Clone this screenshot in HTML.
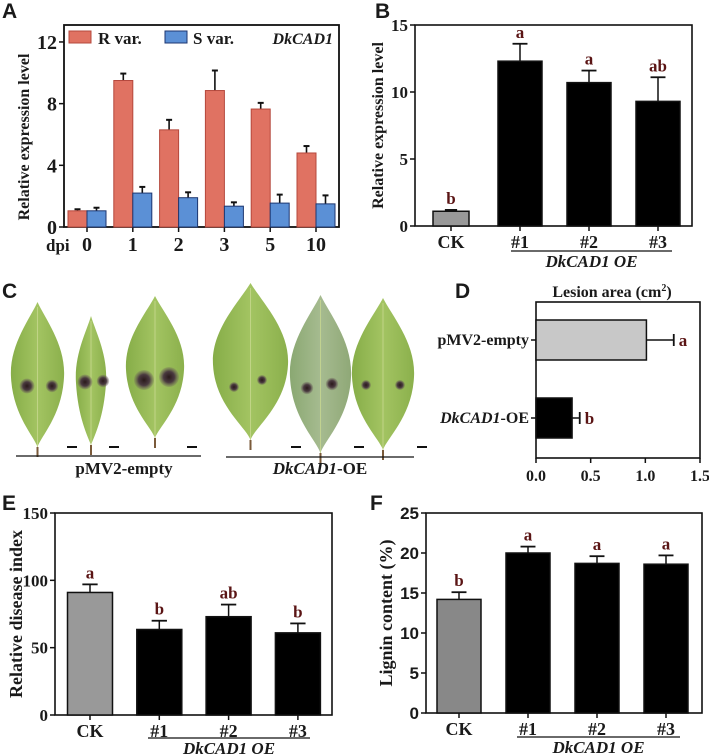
<!DOCTYPE html>
<html><head><meta charset="utf-8">
<style>
html,body{margin:0;padding:0;background:#fff;}
svg{display:block;}
text{font-family:"Liberation Serif",serif;font-weight:bold;fill:#1a1a1a;}
.sans{font-family:"Liberation Sans",sans-serif;}
</style></head>
<body>
<svg id="fig" width="709" height="754" viewBox="0 0 709 754" xmlns="http://www.w3.org/2000/svg">
<defs>
<linearGradient id="leafG" x1="0" y1="0" x2="1" y2="0">
<stop offset="0" stop-color="#86ad48"/><stop offset="0.5" stop-color="#a3c462"/><stop offset="1" stop-color="#8bb04c"/>
</linearGradient>
<linearGradient id="leafG2" x1="0" y1="0" x2="1" y2="0">
<stop offset="0" stop-color="#8aa872"/><stop offset="0.5" stop-color="#a6bb90"/><stop offset="1" stop-color="#8fa877"/>
</linearGradient>
<radialGradient id="spotG"><stop offset="0" stop-color="#2a1a1a"/><stop offset="0.55" stop-color="#4a3a40"/><stop offset="1" stop-color="#6a5a5a" stop-opacity="0.2"/></radialGradient>
</defs>
</svg>
<script>
// ---------- Panel A data ----------
const aCats = ["0","1","2","3","5","10"];
const aR = [1.05, 9.5, 6.3, 8.85, 7.65, 4.8];
const aRErr = [0.1, 0.45, 0.65, 1.3, 0.4, 0.45];
const aS = [1.05, 2.2, 1.9, 1.35, 1.55, 1.5];
const aSErr = [0.2, 0.4, 0.35, 0.25, 0.55, 0.55];
const aTicks = [0,4,8,12];
// ---------- Panel B data ----------
const bCats = ["CK","#1","#2","#3"];
const bVals = [1.1, 12.3, 10.7, 9.3];
const bErr = [0.1, 1.3, 0.9, 1.8];
const bLetters = ["b","a","a","ab"];
const bTicks = [0,5,10,15];
// ---------- Panel D data ----------
const dCats = ["pMV2-empty","DkCAD1-OE"];
const dVals = [1.01, 0.33];
const dErr = [0.25, 0.07];
const dLetters = ["a","b"];
const dTicks = [0, 0.5, 1.0, 1.5];
const dTickLabels = ["0.0","0.5","1.0","1.5"];
// ---------- Panel E data ----------
const eCats = ["CK","#1","#2","#3"];
const eVals = [91, 63.5, 73, 61];
const eErr = [6, 6.5, 9, 7];
const eLetters = ["a","b","ab","b"];
const eTicks = [0,50,100,150];
// ---------- Panel F data ----------
const fCats = ["CK","#1","#2","#3"];
const fVals = [14.2, 20, 18.7, 18.6];
const fErr = [0.9, 0.8, 0.9, 1.1];
const fLetters = ["b","a","a","a"];
const fTicks = [0,5,10,15,20,25];

const NS = "http://www.w3.org/2000/svg";
const svg = document.getElementById("fig");
function mk(tag, attrs, parent){
  const e = document.createElementNS(NS, tag);
  for (const k in attrs) e.setAttribute(k, attrs[k]);
  (parent||svg).appendChild(e);
  return e;
}
function txt(s, attrs, parent){
  const e = mk("text", attrs, parent);
  e.textContent = s;
  return e;
}
function line(x1,y1,x2,y2,w,parent){
  return mk("line",{x1:x1,y1:y1,x2:x2,y2:y2,stroke:"#111","stroke-width":w||1.5},parent);
}

function vPanel(o){
  const g = mk("g",{});
  
  
  const ys = v => o.bottom - (v/o.ymax)*(o.bottom-o.top);
  const fr = mk("rect",{x:o.left,y:o.top,width:o.right-o.left,height:o.bottom-o.top,fill:"none",stroke:"#111","stroke-width":1.6},g);
  
  
  o.ticks.forEach((t,i)=>{
    const y = ys(t);
    line(o.left-5,y,o.left,y,1.5,g);
    const tl = txt(String(t),{x:o.left-7,y:y+6,"text-anchor":"end","font-size":o.tickFont||17,class:o.tickClass||""},g);
    
    
  });
  const yt = txt(o.ytitle,{x:0,y:0,"text-anchor":"middle","font-size":o.ytFont||17,transform:"translate("+o.ytx+","+((o.top+o.bottom)/2)+") rotate(-90)"},g);
  
  
  o.cats.forEach((c,i)=>{
    const cx = o.c0 + i*o.step;
    line(cx,o.bottom,cx,o.bottom+5,1.5,g);
    const xl = txt(c,{x:cx,y:o.bottom+22,"text-anchor":"middle","font-size":o.xFont||18},g);
    
    
    const v = o.vals[i], e = o.errs[i];
    const bw = (i===0 && o.w0) ? o.w0 : o.bw;
    const yv = ys(v), ye = ys(v+e);
    line(cx,yv,cx,ye,1.5,g);
    line(cx-bw*0.17,ye,cx+bw*0.17,ye,1.8,g);
    const bar = mk("rect",{x:cx-bw/2,y:yv,width:bw,height:o.bottom-yv,fill:i===0?o.ckColor:"#000",stroke:"#111","stroke-width":1.5},g);
    
    
    const lt = txt(o.letters[i],{x:cx,y:ye-6,"text-anchor":"middle","font-size":17,style:"fill:#5a1414"},g);
    
    
  });
  line(o.ulx1,o.uly,o.ulx2,o.uly,1.2,g);
  const gl = txt("DkCAD1 OE",{x:(o.ulx1+o.ulx2)/2,y:o.uly+16,"text-anchor":"middle","font-size":17,"font-style":"italic"},g);
  
  
  return g;
}

[["A",2,18],["B",375,18],["C",2,298],["D",455,298],["E",2,510],["F",370,510]].forEach(p=>{
  const t = txt(p[0],{x:p[1],y:p[2],"font-size":21,class:"sans","font-weight":"bold"});
  
  
});

// ---------- Panel A ----------
(function(){
  const g = mk("g",{});
  
  
  const L=64,R=339,T=25,B=227,ymax=13.1,c0=87,step=45.8,bw=19;
  const ys = v => B - v/ymax*(B-T);
  const fr = mk("rect",{x:L,y:T,width:R-L,height:B-T,fill:"none",stroke:"#111","stroke-width":1.8},g);
  
  
  aTicks.forEach(t=>{
    const y=ys(t);
    line(L-5,y,L,y,1.5,g);
    const tl = txt(String(t),{x:L-7,y:y+7,"text-anchor":"end","font-size":20},g);
    
    
  });
  const yt = txt("Relative expression level",{x:0,y:0,"text-anchor":"middle","font-size":16,transform:"translate(29,137) rotate(-90)"},g);
  
  
  const dpi = txt("dpi",{x:46,y:251,"font-size":17},g);
  
  
  aCats.forEach((c,i)=>{
    const cx = c0 + i*step;
    line(cx,B,cx,B+5,1.5,g);
    const xl = txt(c,{x:cx,y:251,"text-anchor":"middle","font-size":20},g);
    
    
    let yv=ys(aR[i]), ye=ys(aR[i]+aRErr[i]);
    line(cx-bw/2,yv,cx-bw/2,ye,1.6,g); line(cx-bw/2-3,ye,cx-bw/2+3,ye,2,g);
    const rb = mk("rect",{x:cx-bw,y:yv,width:bw,height:B-yv,fill:"#e07262",stroke:"#b5483c","stroke-width":1},g);
    
    
    yv=ys(aS[i]); ye=ys(aS[i]+aSErr[i]);
    line(cx+bw/2,yv,cx+bw/2,ye,1.6,g); line(cx+bw/2-3,ye,cx+bw/2+3,ye,2,g);
    const sb = mk("rect",{x:cx,y:yv,width:bw,height:B-yv,fill:"#5b90d6",stroke:"#1c3670","stroke-width":1},g);
    
    
  });
  const l1 = mk("rect",{x:69,y:31,width:22,height:12,fill:"#e07262",stroke:"#b5483c"},g);
  
  
  const t1 = txt("R var.",{x:98,y:44,"font-size":17},g);
  
  
  const l2 = mk("rect",{x:165,y:31,width:22,height:12,fill:"#5b90d6",stroke:"#1c3670"},g);
  
  
  const t2 = txt("S var.",{x:193,y:44,"font-size":17},g);
  
  
  const gt = txt("DkCAD1",{x:333,y:44,"text-anchor":"end","font-size":16,"font-style":"italic"},g);
  
  
})();

vPanel({name:"panel-b-chart",left:415,right:692,top:25,bottom:226,ymax:15,ticks:bTicks,
  ytitle:"Relative expression level",ytx:383,ytFont:16,cats:bCats,vals:bVals,errs:bErr,letters:bLetters,
  c0:451,step:69,bw:44,w0:36,ckColor:"#999",ulx1:511,ulx2:672,uly:251,tickFont:17});

// ---------- Panel C ----------
(function(){
  const g = mk("g",{});
  
  
  const leaves = [
    [11,64,302,447,"url(#leafG)",[[27,386,6],[52,386,5]]],
    [76,106,316,445,"url(#leafG)",[[85,382,6],[103,381,5]]],
    [126,184,296,438,"url(#leafG)",[[144,380,8],[169,377,8]]],
    [213,288,283,440,"url(#leafG)",[[234,387,4],[262,380,4]]],
    [290,351,295,453,"url(#leafG2)",[[307,388,5],[332,384,5]]],
    [352,414,298,450,"url(#leafG)",[[366,385,4],[400,385,4]]]
  ];
  leaves.forEach((l,i)=>{
    const [x1,x2,t,b,fill,spots]=l;
    const cx=(x1+x2)/2, h=b-t;
    const d = "M"+cx+","+t+" C"+(cx+ (x2-x1)*0.15)+","+(t+h*0.12)+" "+(x2+2)+","+(t+h*0.3)+" "+x2+","+(t+h*0.52)+
      " C"+(x2-2)+","+(t+h*0.78)+" "+(cx+4)+","+(t+h*0.92)+" "+cx+","+b+
      " C"+(cx-4)+","+(t+h*0.92)+" "+(x1+2)+","+(t+h*0.78)+" "+x1+","+(t+h*0.52)+
      " C"+(x1-2)+","+(t+h*0.3)+" "+(cx-(x2-x1)*0.15)+","+(t+h*0.12)+" "+cx+","+t+"Z";
    const p = mk("path",{d:d,fill:fill},g);
    
    
    line(cx,t+5,cx,b,0.8,g).setAttribute("stroke","#c8d890");
    line(cx,b,cx,b+10,2,g).setAttribute("stroke","#7a5a3a");
    spots.forEach(s=>{
      const c = mk("circle",{cx:s[0],cy:s[1],r:s[2]*1.25,fill:"url(#spotG)"},g);
      
      
    });
    line(x2+3,447,x2+13,447,2,g);
  });
  line(16,456,201,456,1.2,g);
  line(226,457,414,457,1.2,g);
  const a = txt("pMV2-empty",{x:124,y:474,"text-anchor":"middle","font-size":17},g);
  
  
  const b = txt("",{x:320,y:474,"text-anchor":"middle","font-size":17},g);
  
  
  const ts1 = mk("tspan",{"font-style":"italic"},b); ts1.textContent="DkCAD1";
  const ts2 = mk("tspan",{},b); ts2.textContent="-OE";
})();

// ---------- Panel D ----------
(function(){
  const g = mk("g",{});
  
  
  const L=536,R=700,T=302,B=458,xmax=1.5,c0=340,step=78,bh=40;
  const xs = v => L + v/xmax*(R-L);
  const fr = mk("rect",{x:L,y:T,width:R-L,height:B-T,fill:"none",stroke:"#111","stroke-width":1.6},g);
  
  
  const tt = txt("Lesion area (cm",{x:612,y:297,"text-anchor":"middle","font-size":16},g);
  
  
  const sup = mk("tspan",{"font-size":10,dy:-6},tt); sup.textContent="2";
  const cl = mk("tspan",{dy:6},tt); cl.textContent=")";
  dTicks.forEach((t,i)=>{
    const x=xs(t);
    line(x,B,x,B+5,1.5,g);
    const tl = txt(dTickLabels[i],{x:x,y:B+23,"text-anchor":"middle","font-size":16},g);
    
    
  });
  dCats.forEach((c,i)=>{
    const cy = c0 + i*step;
    line(L-5,cy,L,cy,1.5,g);
    const lab = txt("",{x:L-7,y:cy+5,"text-anchor":"end","font-size":16},g);
    
    
    if(c.indexOf("DkCAD1")===0){
      const s1=mk("tspan",{"font-style":"italic"},lab); s1.textContent="DkCAD1";
      const s2=mk("tspan",{},lab); s2.textContent=c.slice(6);
    } else lab.textContent=c;
    const xv=xs(dVals[i]), xe=xs(dVals[i]+dErr[i]);
    line(xv,cy,xe,cy,1.5,g);
    line(xe,cy-6,xe,cy+6,1.8,g);
    const bar = mk("rect",{x:L,y:cy-bh/2,width:xv-L,height:bh,fill:i===0?"#c8c8c8":"#000",stroke:"#111","stroke-width":1.5},g);
    
    
    const lt = txt(dLetters[i],{x:xe+5,y:cy+6,"font-size":17,style:"fill:#5a1414"},g);
    
    
  });
})();

vPanel({name:"panel-e-chart",left:55,right:332,top:513,bottom:715,ymax:150,ticks:eTicks,
  ytitle:"Relative disease index",ytx:22,ytFont:18,cats:eCats,vals:eVals,errs:eErr,letters:eLetters,
  c0:90,step:69.3,bw:45,ckColor:"#999",ulx1:148,ulx2:310,uly:738,tickFont:17});

vPanel({name:"panel-f-chart",left:426,right:702,top:513,bottom:713,ymax:25,ticks:fTicks,
  ytitle:"Lignin content (%)",ytx:392,ytFont:18,cats:fCats,vals:fVals,errs:fErr,letters:fLetters,
  c0:459,step:69,bw:44,ckColor:"#888",ulx1:517,ulx2:680,uly:737,tickFont:17,tickClass:"sans"});
</script>
</body></html>
